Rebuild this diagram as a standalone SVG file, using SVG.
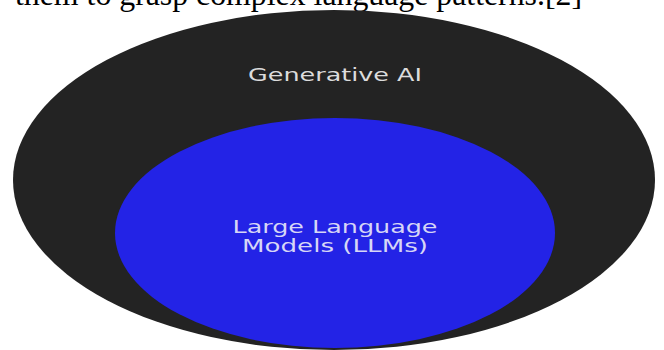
<svg xmlns="http://www.w3.org/2000/svg" width="664" height="350" viewBox="0 0 664 350">
  <style>
    .caption { font-family: "Liberation Serif", "Times New Roman", serif; font-size: 32px; fill: #000000; }
    .label { font-family: "DejaVu Sans", "Open Sans", sans-serif; font-size: 17px; text-anchor: middle; }
    .outer-label { fill: #dcdcdc; }
    .inner-label { fill: #d6d6f6; }
  </style>
  <rect x="0" y="0" width="664" height="350" fill="#ffffff"/>
  <text class="caption" x="15" y="5" textLength="567" lengthAdjust="spacingAndGlyphs">them to grasp complex language patterns.[2]</text>
  <g id="generative-ai">
    <ellipse cx="334" cy="180" rx="321" ry="170" fill="#232323"/>
    <text class="label outer-label" x="335" y="81" textLength="174" lengthAdjust="spacingAndGlyphs">Generative AI</text>
  </g>
  <g id="llms">
    <ellipse cx="335" cy="233" rx="220" ry="115" fill="#2323E6"/>
    <text class="label inner-label" x="335" y="233" textLength="205" lengthAdjust="spacingAndGlyphs">Large Language</text>
    <text class="label inner-label" x="335" y="252" textLength="186" lengthAdjust="spacingAndGlyphs">Models (LLMs)</text>
  </g>
  <g id="connectors"></g>
</svg>
